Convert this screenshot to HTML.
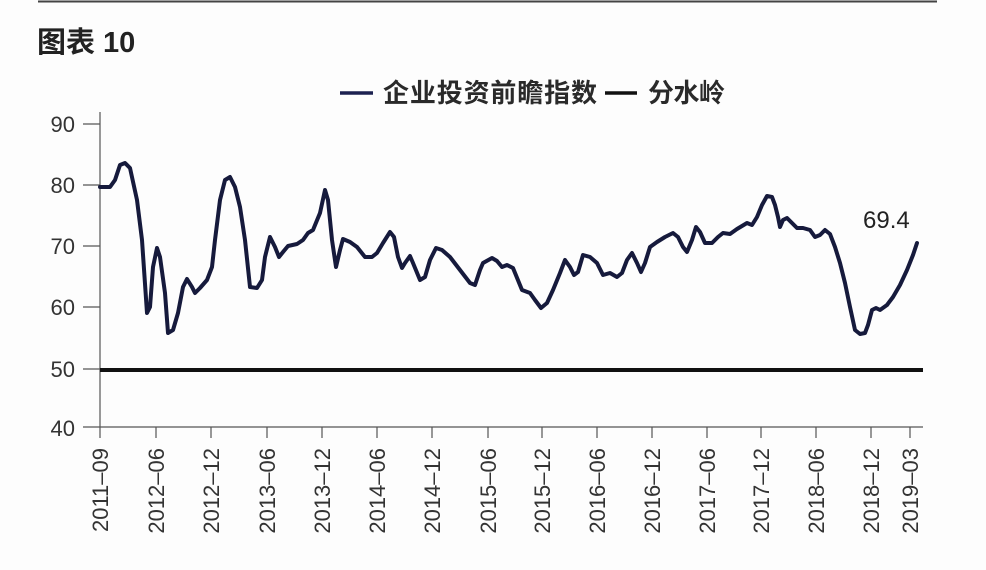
<!DOCTYPE html>
<html>
<head>
<meta charset="utf-8">
<style>
html,body{margin:0;padding:0;background:#fff;}
svg{display:block;}
</style>
</head>
<body>
<svg width="986" height="570" viewBox="0 0 986 570" xmlns="http://www.w3.org/2000/svg">
<rect width="986" height="570" fill="#fdfdfd"/>
<line x1="38" y1="1.5" x2="937" y2="1.5" stroke="#444" stroke-width="2"/>
<text x="37" y="52" font-family="'Liberation Sans','Noto Sans CJK SC',sans-serif" font-size="29" font-weight="bold" fill="#222">图表 10</text>

<!-- legend -->
<line x1="340" y1="93" x2="373" y2="93" stroke="#1c2150" stroke-width="3.5"/>
<text x="383" y="102" font-family="'Liberation Sans','Noto Sans CJK SC',sans-serif" font-size="26" font-weight="bold" fill="#2a2a2a" textLength="214">企业投资前瞻指数</text>
<line x1="605" y1="93" x2="637" y2="93" stroke="#111" stroke-width="3.5"/>
<text x="648" y="102" font-family="'Liberation Sans','Noto Sans CJK SC',sans-serif" font-size="26" font-weight="bold" fill="#2a2a2a" textLength="77">分水岭</text>

<!-- axes -->
<g stroke="#555" stroke-width="1.2" fill="none">
<line x1="100" y1="112" x2="100" y2="438"/>
<line x1="83" y1="427" x2="923" y2="427"/>
<line x1="83" y1="124" x2="100" y2="124"/>
<line x1="83" y1="185" x2="100" y2="185"/>
<line x1="83" y1="246" x2="100" y2="246"/>
<line x1="83" y1="307" x2="100" y2="307"/>
<line x1="83" y1="369" x2="100" y2="369"/>
<line x1="156" y1="427" x2="156" y2="438"/>
<line x1="211" y1="427" x2="211" y2="438"/>
<line x1="267" y1="427" x2="267" y2="438"/>
<line x1="322" y1="427" x2="322" y2="438"/>
<line x1="377" y1="427" x2="377" y2="438"/>
<line x1="432" y1="427" x2="432" y2="438"/>
<line x1="488" y1="427" x2="488" y2="438"/>
<line x1="542" y1="427" x2="542" y2="438"/>
<line x1="597" y1="427" x2="597" y2="438"/>
<line x1="652" y1="427" x2="652" y2="438"/>
<line x1="707" y1="427" x2="707" y2="438"/>
<line x1="761" y1="427" x2="761" y2="438"/>
<line x1="816" y1="427" x2="816" y2="438"/>
<line x1="871" y1="427" x2="871" y2="438"/>
<line x1="910" y1="427" x2="910" y2="438"/>
</g>

<g font-family="'Liberation Sans',sans-serif" font-size="22" fill="#333" text-anchor="end">
<text x="75" y="132">90</text>
<text x="75" y="193">80</text>
<text x="75" y="254">70</text>
<text x="75" y="315">60</text>
<text x="75" y="377">50</text>
<text x="75" y="436">40</text>
</g>

<g font-family="'Liberation Sans',sans-serif" font-size="22" fill="#333" text-anchor="end">
<text transform="translate(108,448) rotate(-90)">2011–09</text>
<text transform="translate(164,448) rotate(-90)">2012–06</text>
<text transform="translate(219,448) rotate(-90)">2012–12</text>
<text transform="translate(275,448) rotate(-90)">2013–06</text>
<text transform="translate(330,448) rotate(-90)">2013–12</text>
<text transform="translate(385,448) rotate(-90)">2014–06</text>
<text transform="translate(440,448) rotate(-90)">2014–12</text>
<text transform="translate(496,448) rotate(-90)">2015–06</text>
<text transform="translate(550,448) rotate(-90)">2015–12</text>
<text transform="translate(605,448) rotate(-90)">2016–06</text>
<text transform="translate(660,448) rotate(-90)">2016–12</text>
<text transform="translate(715,448) rotate(-90)">2017–06</text>
<text transform="translate(769,448) rotate(-90)">2017–12</text>
<text transform="translate(824,448) rotate(-90)">2018–06</text>
<text transform="translate(879,448) rotate(-90)">2018–12</text>
<text transform="translate(918,448) rotate(-90)">2019–03</text>
</g>

<!-- 50 line -->
<line x1="100" y1="370" x2="923" y2="370" stroke="#111" stroke-width="4"/>

<!-- series -->
<polyline fill="none" stroke="#161a3c" stroke-width="4" stroke-linejoin="round" stroke-linecap="round" points="
100,187 110,187 115,180 120,165 125,163 130,168 137,200 142,240 147,313 150,307 153,267 157,248 160,257 165,293 168,333 173,330 178,313 183,287 187,279 192,287 195,293 200,288 207,280 212,267 215,240 220,200 225,180 230,177 235,187 240,207 245,240 250,287 257,288 262,280 265,257 270,237 275,247 279,257 283,252 288,246 297,244 303,240 308,233 313,230 320,213 325,190 328,200 332,240 336,267 340,250 343,239 350,242 357,247 365,257 372,257 377,253 383,243 390,232 394,237 398,257 402,268 405,263 410,256 413,263 420,280 425,277 430,260 436,248 442,250 450,257 460,270 470,283 475,285 480,270 483,263 492,258 497,261 502,267 507,265 513,268 522,290 530,293 535,300 541,308 547,303 553,290 560,273 565,260 570,267 574,275 578,272 583,255 590,257 597,263 603,275 610,273 617,277 622,273 627,260 632,253 637,263 641,272 645,263 650,247 657,242 665,237 673,233 678,237 683,247 687,252 692,240 696,227 700,232 705,243 712,243 718,237 723,233 730,234 737,229 742,226 747,223 752,225 757,217 762,205 767,196 772,197 775,205 778,217 780,227 783,220 787,218 792,223 797,228 803,228 810,230 815,237 820,235 825,230 830,234 835,247 840,263 845,283 850,307 855,330 860,334 865,333 868,325 872,310 876,308 880,310 887,305 893,297 900,285 907,270 913,255 917,243"/>

<text x="863" y="228" font-family="'Liberation Sans',sans-serif" font-size="24" fill="#222">69.4</text>
</svg>
</body>
</html>
